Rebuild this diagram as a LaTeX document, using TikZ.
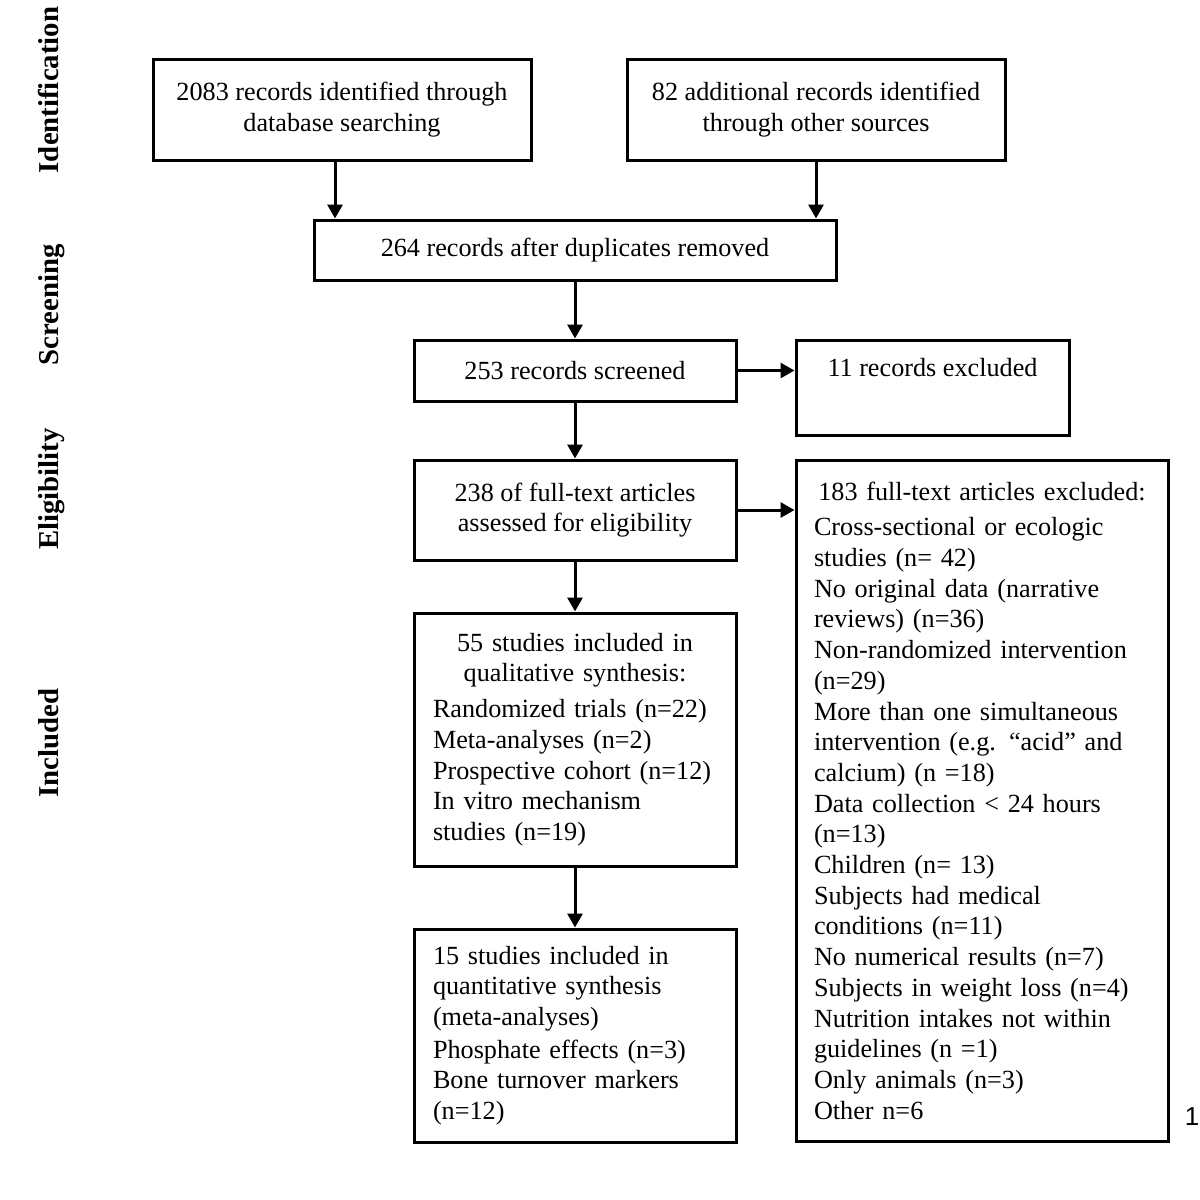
\documentclass[tikz,border=0pt]{standalone}
\usepackage{fontspec}
\setmainfont{Liberation Serif}
\newfontfamily\pagefont{Liberation Sans}
\usetikzlibrary{arrows.meta}
\newcommand{\midline}[1]{\leavevmode\hbox to\hsize{\hss#1\hss}}
\begin{document}
\begin{tikzpicture}[x=0.5pt, y=-0.5pt,
        font=\fontsize{13.1}{15.35}\selectfont,
        box/.style={rectangle, draw, line width=1.5pt, align=center, inner sep=0pt},
        listbox/.style={rectangle, draw, line width=1.5pt, align=left, inner ysep=0pt},
        phase/.style={rotate=90, anchor=base, font=\bfseries\fontsize{14.4}{17}\selectfont},
        arrow/.style={-{Triangle[length=7pt, width=7.5pt]}, line width=1.5pt}
    ]
        \useasboundingbox (0,0) rectangle (1200,1200);

        % Phase labels
        \node[phase] (ident) at (58, 90) {Identification};
        \node[phase] (screen) at (58, 305) {Screening};
        \node[phase] (elig) at (58, 489) {Eligibility};
        \node[phase] (incl) at (58, 743) {Included};

        % Identification
        \node[box, minimum width=189pt, minimum height=50.5pt] (a) at (342, 109.5) {2083 records identified through\\database searching};
        \node[box, minimum width=189pt, minimum height=50.5pt] (b) at (816, 109.5) {82 additional records identified\\through other sources};

        % Screening
        \node[box, minimum width=261pt, minimum height=30pt] (c) at (575, 250) {264 records after duplicates removed};
        \node[box, minimum width=161pt, minimum height=30.5pt] (d) at (575, 370.5) {253 records screened};
        \node[box, minimum width=136.5pt, minimum height=47.5pt] (e) at (932.5, 387.5) {11 records excluded\\\strut};

        % Eligibility
        \node[box, minimum width=161pt, minimum height=50pt] (f) at (575, 510) {238 of full-text articles\\assessed for eligibility};
        \node[listbox, text width=168pt, inner xsep=9pt, minimum height=340.5pt] (g) at (982, 800.5) {\midline{183 full-text articles excluded:}\\[2.5pt]
            Cross-sectional or ecologic\\ studies (n= 42)\\ No original data (narrative\\ reviews) (n=36)\\ Non-randomized intervention\\ (n=29)\\ More than one simultaneous\\ intervention (e.g. “acid” and\\ calcium) (n =18)\\ Data collection < 24 hours\\ (n=13)\\ Children (n= 13)\\ Subjects had medical\\ conditions (n=11)\\ No numerical results (n=7)\\ Subjects in weight loss (n=4)\\ Nutrition intakes not within\\ guidelines (n =1)\\ Only animals (n=3)\\ Other n=6};

        % Included
        \node[listbox, text width=142pt, inner xsep=9.5pt, minimum height=126.5pt] (h) at (575, 739.5) {\midline{55 studies included in}\\ \midline{qualitative synthesis:}\\[2.5pt]
            Randomized trials (n=22)\\ Meta-analyses (n=2)\\ Prospective cohort (n=12)\\ In vitro mechanism\\ studies (n=19)};
        \node[listbox, text width=142pt, inner xsep=9.5pt, minimum height=106.5pt] (i) at (575, 1035.5) {15 studies included in\\ quantitative synthesis\\ (meta-analyses)\\[1pt] Phosphate effects (n=3)\\ Bone turnover markers\\ (n=12)};

        % Page number
        \node[font=\pagefont\fontsize{13}{15}\selectfont] (pagenum) at (1192, 1117) {1};

        % Arrows
        \draw[arrow] ([xshift=-3.5pt]a.south) -- ([xshift=-3.5pt]a.south |- c.north);
        \draw[arrow] (b.south) -- (b.south |- c.north);
        \draw[arrow] (c) -- (d);
        \draw[arrow] (d.east) -- (d.east -| e.west);
        \draw[arrow] (d) -- (f);
        \draw[arrow] (f.east) -- (f.east -| g.west);
        \draw[arrow] (f) -- (h);
        \draw[arrow] (h) -- (i);
    \end{tikzpicture}
\end{document}
